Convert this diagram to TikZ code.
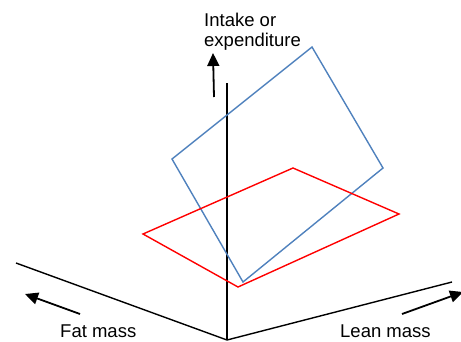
\documentclass[tikz,border=0pt]{standalone}
\usepackage{fontspec}
\setmainfont{Liberation Sans}
\usetikzlibrary{arrows.meta}
\definecolor{planeblue}{HTML}{4F81BD}
\definecolor{planered}{HTML}{FF0000}
\begin{document}
\begin{tikzpicture}[x=1pt,y=-1pt,
  axis/.style={line width=1.4pt,black},
  dirarrow/.style={line width=1.8pt,black,-{Triangle[length=13pt,width=12pt]}},
  blueplane/.style={line width=1.4pt,planeblue,line join=miter},
  redplane/.style={line width=1.4pt,planered,line join=miter},
  lbl/.style={inner sep=0pt,font=\fontsize{18.5}{19.5}\selectfont}]
\useasboundingbox (0,0) rectangle (461,341);
% axes
\coordinate (O) at (227,340);
\coordinate (Vtop) at (227,83);
\coordinate (Lend) at (16,263);
\coordinate (Rend) at (452,282);
\draw[axis] (Vtop) -- (O);
\draw[axis] (Lend) -- (O) -- (Rend);
% blue plane
\coordinate (B1) at (172,159);
\coordinate (B2) at (243,282);
\coordinate (B3) at (383,168);
\coordinate (B4) at (312,47);
\draw[blueplane] (B1) -- (B2) -- (B3) -- (B4) -- cycle;
% red plane
\coordinate (R1) at (143,234);
\coordinate (R2) at (238,287);
\coordinate (R3) at (399,214);
\coordinate (R4) at (293,168);
\draw[redplane] (R1) -- (R2) -- (R3) -- (R4) -- cycle;
% direction arrows
\coordinate (IA1) at (214,97);
\coordinate (IA2) at (213,53);
\draw[dirarrow] (IA1) -- (IA2);
\coordinate (FA1) at (80,314);
\coordinate (FA2) at (25,294);
\draw[dirarrow] (FA1) -- (FA2);
\coordinate (LA1) at (402,314);
\coordinate (LA2) at (463,292);
\draw[dirarrow] (LA1) -- (LA2);
% labels
\node[lbl,anchor=base west,align=left] (intake) at (204,46) {Intake or\\expenditure};
\node[lbl,anchor=base west] (fat) at (60,337) {Fat mass};
\node[lbl,anchor=base west] (lean) at (340,337) {Lean mass};
\end{tikzpicture}
\end{document}
